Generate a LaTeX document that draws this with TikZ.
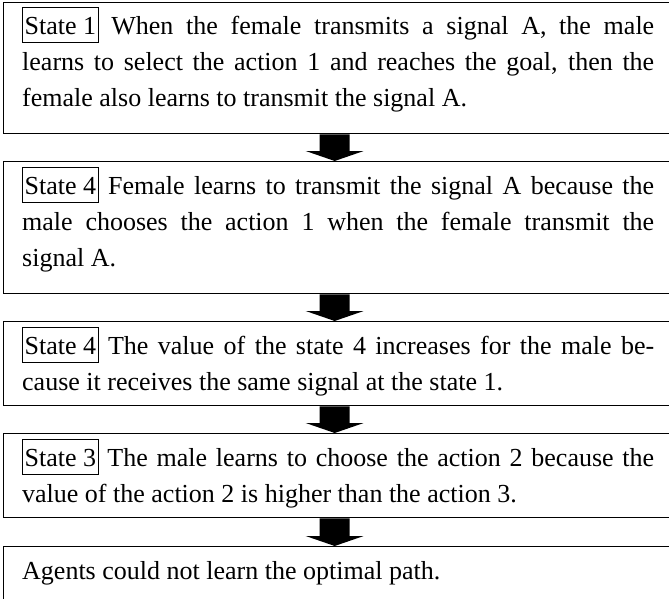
\documentclass[tikz,border=0pt]{standalone}
\usepackage{fontspec}
\setmainfont{Liberation Serif}
\usetikzlibrary{calc}
\newcommand{\lbl}[1]{{\setlength{\fboxsep}{1.5pt}\setlength{\fboxrule}{1pt}\fbox{\rule[-6pt]{0pt}{31pt}#1}}}
\newcommand{\boxtext}[1]{\parbox[t]{632pt}{\fontsize{26}{36}\selectfont\tolerance=10000\hyphenpenalty=10000 #1}}
\newcommand{\blockarrow}[2]{\fill[arrowfill] ($(#1.south)+(-18,0)$) -- ($(#1.south)+(12,0)$) -- ($(#2.north)+(12,-10)$) -- ($(#2.north)+(26,-10)$) -- ($(#2.north)+(-3,0)$) -- ($(#2.north)+(-32,-10)$) -- ($(#2.north)+(-18,-10)$) -- cycle;}
\begin{document}
\begin{tikzpicture}[x=1pt,y=-1pt,
  box/.style={draw, line width=1.4pt, rectangle, inner sep=0pt, anchor=north west, minimum width=668pt},
  txt/.style={inner sep=0pt, anchor=base west},
  arrowfill/.style={fill=black}]
\useasboundingbox (0,0) rectangle (669,599);
\node[box, minimum height=131pt] (b1) at (3,2) {};
\node[box, minimum height=132pt] (b2) at (3,161) {};
\node[box, minimum height=84pt] (b3) at (3,321) {};
\node[box, minimum height=84pt] (b4) at (3,433) {};
\node[box, minimum height=70pt] (b5) at (3,546) {};
\node[txt] (t1) at (22,35) {\boxtext{\lbl{State 1} When the female transmits a signal A, the male\linebreak learns to select the action 1 and reaches the goal, then the\linebreak female also learns to transmit the signal A.}};
\node[txt] (t2) at (22,194) {\boxtext{\lbl{State 4} Female learns to transmit the signal A because the\linebreak male chooses the action 1 when the female transmit the\linebreak signal A.}};
\node[txt] (t3) at (22,354) {\boxtext{\lbl{State 4} The value of the state 4 increases for the male be-\linebreak cause it receives the same signal at the state 1.}};
\node[txt] (t4) at (22,466) {\boxtext{\lbl{State 3} The male learns to choose the action 2 because the\linebreak value of the action 2 is higher than the action 3.}};
\node[txt] (t5) at (22,579) {\boxtext{Agents could not learn the optimal path.}};
\blockarrow{b1}{b2}
\blockarrow{b2}{b3}
\blockarrow{b3}{b4}
\blockarrow{b4}{b5}
\end{tikzpicture}
\end{document}
